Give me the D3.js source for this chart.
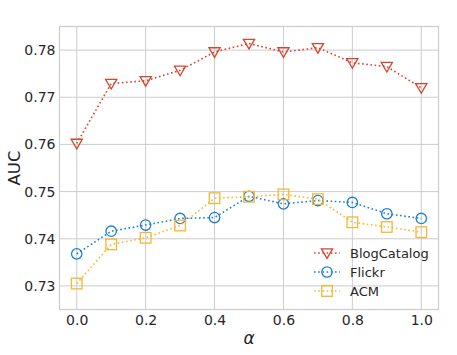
<!DOCTYPE html>
<html><head><meta charset="utf-8">
<script src="https://cdn.jsdelivr.net/npm/d3@7"></script>
<style>body{margin:0;background:#fff}svg{display:block}text{font-family:"DejaVu Sans",sans-serif;fill:#262626}</style>
</head><body><svg id="c" width="457" height="355"></svg>
<script>
const alphas = [0.0,0.1,0.2,0.3,0.4,0.5,0.6,0.7,0.8,0.9,1.0];
const blogCatalog = [0.7602,0.7729,0.7735,0.7757,0.7796,0.7814,0.7796,0.7805,0.7773,0.7765,0.7720];
const flickr = [0.7368,0.7416,0.7429,0.7443,0.7445,0.7490,0.7474,0.7481,0.7477,0.7453,0.7443];
const acm = [0.7305,0.7388,0.7402,0.7428,0.7486,0.7489,0.7494,0.7484,0.7435,0.7425,0.7414];
const seriesNames = ["BlogCatalog","Flickr","ACM"];
const xTicks = [0.0,0.2,0.4,0.6,0.8,1.0];
const yTicks = [0.73,0.74,0.75,0.76,0.77,0.78];

const colors = ["#d6452e","#1a80cf","#f5b731"];
const markers = ["tri","circ","sq"];
const series = [blogCatalog, flickr, acm];

const svg = d3.select("#c");
const L=59.5, R=438.5, T=26.5, B=309.5;
const x = d3.scaleLinear().domain([-0.05,1.05]).range([L,R]);
const y = d3.scaleLinear().domain([0.725,0.785]).range([B,T]);

const g = svg.append("g");
g.selectAll(".gx").data(xTicks).enter().append("line")
 .attr("x1",d=>x(d)).attr("x2",d=>x(d)).attr("y1",T).attr("y2",B)
 .attr("stroke","#cccccc").attr("stroke-width",1);
g.selectAll(".gy").data(yTicks).enter().append("line")
 .attr("y1",d=>y(d)).attr("y2",d=>y(d)).attr("x1",L).attr("x2",R)
 .attr("stroke","#cccccc").attr("stroke-width",1);
svg.append("rect").attr("x",L).attr("y",T).attr("width",R-L).attr("height",B-T)
 .attr("fill","none").attr("stroke","#cccccc").attr("stroke-width",1.2);

const xa = svg.append("g").attr("transform",`translate(0,${B})`)
 .call(d3.axisBottom(x).tickValues(xTicks).tickFormat(d3.format(".1f")).tickSize(0).tickPadding(6));
const ya = svg.append("g").attr("transform",`translate(${L},0)`)
 .call(d3.axisLeft(y).tickValues(yTicks).tickFormat(d3.format(".2f")).tickSize(0).tickPadding(4));
[xa,ya].forEach(a=>{a.select(".domain").remove();
 a.selectAll("text").style("font-family","DejaVu Sans").style("font-size","14px").attr("fill","#262626");});

svg.append("text").attr("transform",`translate(20,${(T+B)/2}) rotate(-90)`)
 .attr("text-anchor","middle").style("font-size","16.5px").text("AUC");
svg.append("text").attr("x",(L+R)/2).attr("y",344).attr("text-anchor","middle")
 .style("font-size","17px").style("font-style","italic").text("α");

function drawMarker(sel, type, color){
  if(type==="tri"){
    sel.append("path").attr("d","M-5.6,-4.2L5.6,-4.2L0,5.4Z");
  } else if(type==="circ"){
    sel.append("circle").attr("r",5.2);
  } else {
    sel.append("rect").attr("x",-5.3).attr("y",-5.3).attr("width",10.6).attr("height",10.6);
  }
  sel.selectAll("path,circle,rect").attr("fill","none").attr("stroke",color).attr("stroke-width",1.3);
}

const line = d3.line().x((d,i)=>x(alphas[i])).y(d=>y(d));
series.forEach((s,k)=>{
  svg.append("path").datum(s).attr("d",line).attr("fill","none")
   .attr("stroke",colors[k]).attr("stroke-width",1.6).attr("stroke-dasharray","1.6,2.6");
  svg.selectAll(null).data(s).enter().append("g")
   .attr("transform",(d,i)=>`translate(${x(alphas[i])},${y(d)})`)
   .each(function(){drawMarker(d3.select(this),markers[k],colors[k]);});
});

const lg = svg.append("g");
seriesNames.forEach((n,k)=>{
  const yy = 253 + k*19;
  lg.append("line").attr("x1",314).attr("x2",340).attr("y1",yy).attr("y2",yy)
   .attr("stroke",colors[k]).attr("stroke-width",1.6).attr("stroke-dasharray","1.6,2.6");
  const m = lg.append("g").attr("transform",`translate(327,${yy})`);
  drawMarker(m,markers[k],colors[k]);
  lg.append("text").attr("x",350).attr("y",yy+4.6).style("font-size","13px").text(n);
});
</script></body></html>
